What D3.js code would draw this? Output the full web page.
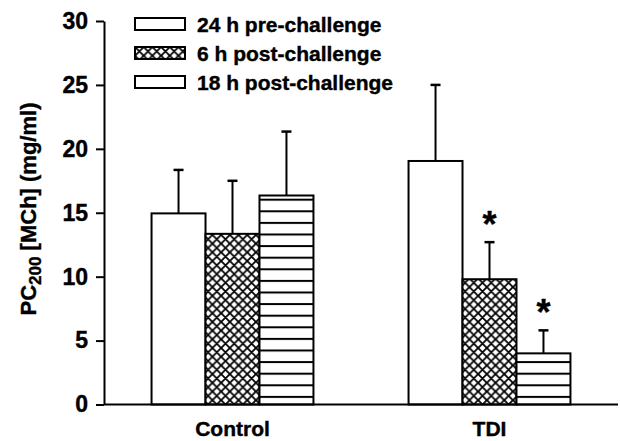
<!DOCTYPE html>
<html>
<head>
<meta charset="utf-8">
<script src="https://cdn.jsdelivr.net/npm/d3@7"></script>
<style>
  body { margin: 0; background: #fff; }
  text { font-family: Arial, "Liberation Sans", sans-serif; font-weight: bold; fill: #000; stroke: #000; stroke-width: 0.4px; }
</style>
</head>
<body>
<svg id="chart" width="620" height="441"></svg>
<script>
// data
const groups = ["Control", "TDI"];
const seriesNames = ["24 h pre-challenge", "6 h post-challenge", "18 h post-challenge"];
const seriesKeys = ["pre24", "post6", "post18"];
const pre24 = [14.95, 19.05];
const post6 = [13.35, 9.8];
const post18 = [16.35, 4.0];
const pre24Err = [3.4, 5.95];
const post6Err = [4.15, 2.9];
const post18Err = [5.0, 1.8];
const significant = [[false, false, false], [false, true, true]];
const yTicks = [0, 5, 10, 15, 20, 25, 30];

const values = { pre24, post6, post18 };
const errors = { pre24: pre24Err, post6: post6Err, post18: post18Err };

const svg = d3.select("#chart");

// patterns
const defs = svg.append("defs");
const cross = defs.append("pattern")
    .attr("id", "cross")
    .attr("patternUnits", "userSpaceOnUse")
    .attr("width", 8.7).attr("height", 8.7);
cross.append("rect").attr("width", 8.7).attr("height", 8.7).attr("fill", "#fff");
cross.append("path")
    .attr("d", "M0,0 L8.7,8.7 M8.7,0 L0,8.7 M-1,7.7 L1,9.7 M7.7,-1 L9.7,1 M-1,1 L1,-1 M7.7,9.7 L9.7,7.7")
    .attr("stroke", "#000").attr("stroke-width", 1.8);

const stripes = defs.append("pattern")
    .attr("id", "stripes")
    .attr("patternUnits", "userSpaceOnUse")
    .attr("y", 1.5)
    .attr("width", 10).attr("height", 11.6);
stripes.append("rect").attr("width", 10).attr("height", 11.6).attr("fill", "#fff");
stripes.append("line")
    .attr("x1", 0).attr("x2", 10).attr("y1", 1).attr("y2", 1)
    .attr("stroke", "#000").attr("stroke-width", 2);

const fills = { pre24: "#fff", post6: "url(#cross)", post18: "url(#stripes)" };

// scales
const x0 = d3.scaleBand().domain(groups).range([104, 618])
    .paddingInner(0.37).paddingOuter(0.185);
const x1 = d3.scaleBand().domain(seriesKeys).range([0, x0.bandwidth()]);
const y = d3.scaleLinear().domain([0, 30]).range([404.5, 21]);

// bars
const barData = [];
groups.forEach((g, gi) => {
    seriesKeys.forEach((k, si) => {
        barData.push({ group: g, key: k, value: values[k][gi], err: errors[k][gi], sig: significant[gi][si] });
    });
});

const bar = svg.append("g").attr("class", "bar_group")
    .selectAll("g")
    .data(barData)
    .enter()
    .append("g")
    .attr("transform", d => "translate(" + x0(d.group) + ",0)");

// error bars (drawn first so the bar outline covers the base)
bar.append("line")
    .attr("x1", d => x1(d.key) + x1.bandwidth() / 2)
    .attr("x2", d => x1(d.key) + x1.bandwidth() / 2)
    .attr("y1", d => y(d.value))
    .attr("y2", d => y(d.value + d.err))
    .attr("stroke", "#000").attr("stroke-width", 2);
bar.append("line")
    .attr("x1", d => x1(d.key) + x1.bandwidth() / 2 - 5)
    .attr("x2", d => x1(d.key) + x1.bandwidth() / 2 + 5)
    .attr("y1", d => y(d.value + d.err))
    .attr("y2", d => y(d.value + d.err))
    .attr("stroke", "#000").attr("stroke-width", 2.5);

bar.append("rect")
    .attr("x", d => x1(d.key))
    .attr("y", d => y(d.value))
    .attr("width", x1.bandwidth())
    .attr("height", d => y(0) - y(d.value))
    .attr("fill", d => fills[d.key])
    .attr("stroke", "#000").attr("stroke-width", 2);

bar.filter(d => d.sig)
    .append("text")
    .attr("x", d => x1(d.key) + x1.bandwidth() / 2)
    .attr("y", d => y(d.value + d.err) - 5)
    .attr("text-anchor", "middle")
    .style("font-size", "36px")
    .text("*");

// y axis
const yAxis = svg.append("g")
    .attr("transform", "translate(104,0)")
    .call(d3.axisLeft(y).tickValues(yTicks).tickSize(8).tickSizeOuter(0).tickPadding(8));
yAxis.select(".domain").attr("stroke-width", 2);
yAxis.selectAll(".tick line").attr("stroke-width", 2);
yAxis.selectAll(".tick text")
    .style("font-size", "23px").style("font-family", "Arial, 'Liberation Sans', sans-serif")
    .style("font-weight", "bold").attr("fill", "#000");

// x axis
svg.append("line")
    .attr("x1", 104).attr("x2", 618)
    .attr("y1", y(0)).attr("y2", y(0))
    .attr("stroke", "#000").attr("stroke-width", 2);

svg.append("g").selectAll("text")
    .data(groups)
    .enter()
    .append("text")
    .attr("x", d => x0(d) + x0.bandwidth() / 2)
    .attr("y", 436)
    .attr("text-anchor", "middle")
    .style("font-size", "21px")
    .text(d => d);

// y label
const yLabel = svg.append("text")
    .attr("transform", "translate(36,209) rotate(-90)")
    .attr("text-anchor", "middle")
    .style("font-size", "22px");
yLabel.append("tspan").text("PC");
yLabel.append("tspan").attr("dy", 5).style("font-size", "17px").text("200");
yLabel.append("tspan").attr("dy", -5).text(" [MCh] (mg/ml)");

// legend
const legend = svg.append("g").attr("class", "legend")
    .selectAll("g")
    .data(seriesKeys)
    .enter()
    .append("g")
    .attr("transform", (d, i) => "translate(135," + (18 + i * 29) + ")");
legend.append("rect")
    .attr("width", 50).attr("height", 12)
    .attr("fill", d => d === "post6" ? "url(#cross)" : "#fff")
    .attr("stroke", "#000").attr("stroke-width", 2);
legend.append("text")
    .attr("x", 62).attr("y", 14)
    .style("font-size", "21px")
    .text((d, i) => seriesNames[i]);
</script>
</body>
</html>
